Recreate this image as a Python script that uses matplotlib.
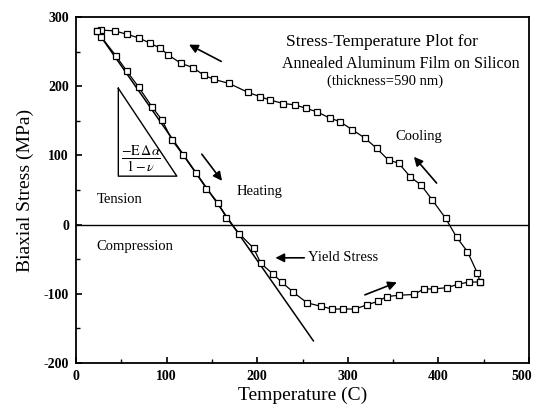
import matplotlib.pyplot as plt
import matplotlib.transforms as mtransforms

plt.rcParams['font.family'] = ['Liberation Serif', 'DejaVu Serif']
plt.rcParams['mathtext.fontset'] = 'stix'
plt.rcParams['axes.unicode_minus'] = False

# heating branch (C, MPa)
heat_T = [23, 28, 44, 56, 69, 84, 95, 106, 118, 132, 144, 157, 166, 180, 196, 204, 217, 227, 240, 255,
          270, 283, 295, 308, 321, 333, 343, 357, 373, 384, 395, 410, 422, 434, 446]
heat_S = [280, 271, 244, 222, 199, 170, 151, 122, 101, 75, 52, 31, 10, -13, -34, -56, -71, -83, -98, -113,
          -118, -122, -122, -122, -116, -111, -104, -102, -101, -93, -93, -91, -86, -83, -83]

# cooling branch
cool_T = [446, 443, 432, 420, 408, 393, 381, 369, 356, 345, 332, 319, 305, 291, 280, 266, 254, 242, 229, 214,
          203, 190, 169, 152, 141, 129, 116, 102, 93, 82, 69, 56, 43, 28, 23]
cool_S = [-83, -70, -39, -18, 9, 36, 57, 69, 89, 93, 110, 125, 137, 149, 154, 163, 168, 173, 175, 180,
          185, 191, 204, 210, 216, 227, 233, 245, 255, 262, 270, 275, 280, 281, 280]

# elastic line
elastic_T = [23, 262]
elastic_S = [280, -168]

x_ticks = [0, 100, 200, 300, 400, 500]
y_ticks = [-200, -100, 0, 100, 200, 300]

fig = plt.figure(figsize=(5.33, 4.08), dpi=100)
ax = fig.add_axes([0.1426, 0.1103, 0.8499, 0.848])

ax.plot(elastic_T, elastic_S, color='k', lw=1.1)
ax.plot(heat_T, heat_S, color='k', lw=0.9, marker='s', ms=5, mfc='white', mec='k', mew=0.9)
ax.plot(cool_T, cool_S, color='k', lw=0.9, marker='s', ms=5, mfc='white', mec='k', mew=0.9)
ax.axhline(0, color='k', lw=1)

ax.set_xlim(0, 500)
ax.set_ylim(-200, 300)
ax.set_xticks(x_ticks)
ax.set_xticks(range(0, 501, 50), minor=True)
ax.set_yticks(y_ticks)
ax.set_yticks(range(-200, 301, 50), minor=True)
ax.tick_params(which='both', direction='in', top=False, right=False, labelsize=10, pad=5)
ax.tick_params(which='major', length=4, width=1.2)
ax.tick_params(which='minor', length=3, width=1)
for lab in ax.get_xticklabels() + ax.get_yticklabels():
    lab.set_fontweight('bold')
# last x label sits at the right edge, nudge it in a little
last = ax.get_xticklabels()[-1]
last.set_transform(last.get_transform() + mtransforms.ScaledTranslation(-7 / 100, 0, fig.dpi_scale_trans))
for sp in ax.spines.values():
    sp.set_linewidth(1.3)

ax.set_xlabel('Temperature (C)', fontsize=14, labelpad=3)
ax.set_ylabel('Biaxial Stress (MPa)', fontsize=14, labelpad=7)

# title block
ax.text(338, 264, 'Stress-Temperature Plot for', fontsize=12.5, ha='center', va='center')
ax.text(358, 232, 'Annealed Aluminum Film on Silicon', fontsize=11.5, ha='center', va='center')
ax.text(341, 207, '(thickness=590 nm)', fontsize=10.5, ha='center', va='center')

ax.text(353, 127, 'Cooling', fontsize=10.5, va='center')
ax.text(177, 48, 'Heating', fontsize=10.5, va='center')
ax.text(23, 36, 'Tension', fontsize=10.5, va='center')
ax.text(23, -32, 'Compression', fontsize=10.5, va='center')
ax.text(256, -48, 'Yield Stress', fontsize=10.5, va='center')

# slope triangle
ax.plot([46.7, 46.7, 111.3, 46.7], [197, 70, 70, 197], color='k', lw=1)
ax.text(72, 96, r'$\frac{\mathrm{-E}\,\Delta\alpha}{\mathrm{1-}\nu}$', fontsize=14.5, ha='center', va='center')


def arrow(tail, head):
    ax.annotate('', xy=head, xytext=tail,
                arrowprops=dict(arrowstyle='-|>', color='k', lw=1.2, mutation_scale=13))


arrow((163, 234), (122, 262))
arrow((137, 105), (163, 60))
arrow((400, 57), (371, 101))
arrow((316, -103), (357, -82))
arrow((255, -48), (217, -48))

plt.savefig('out.png', dpi=100)
